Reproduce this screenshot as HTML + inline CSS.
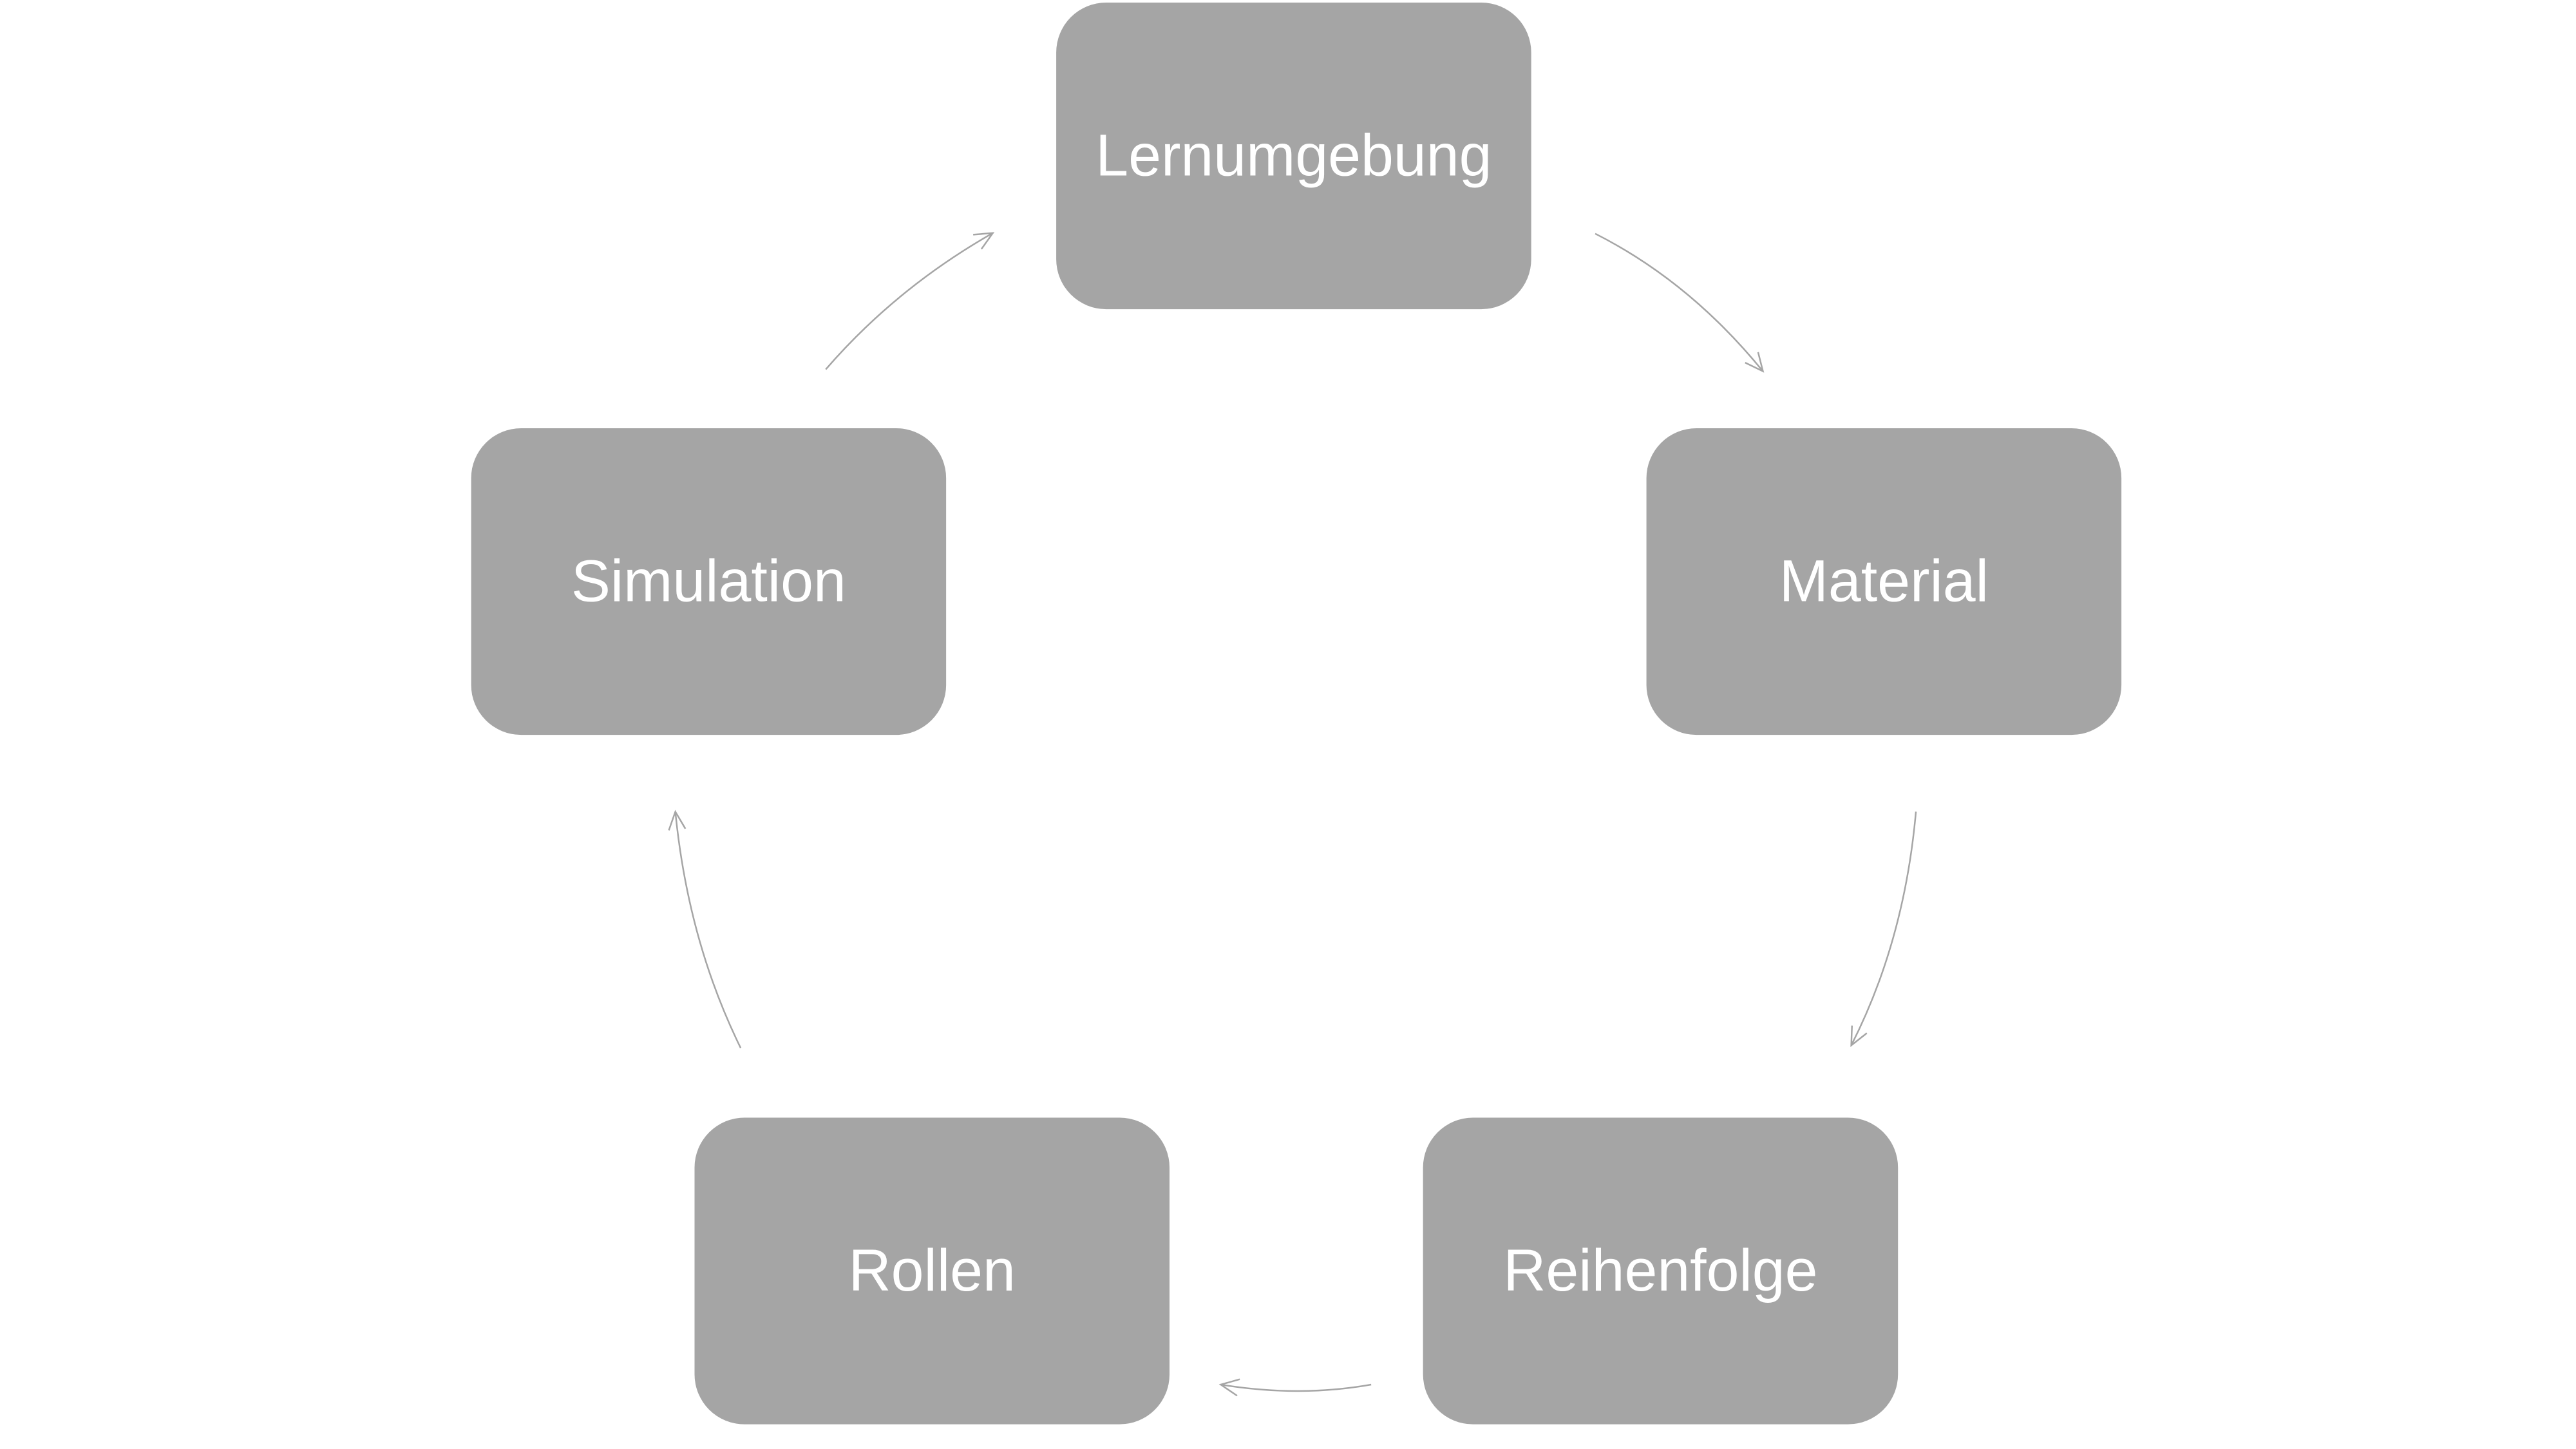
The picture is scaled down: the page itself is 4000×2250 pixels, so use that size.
<!DOCTYPE html>
<html><head><style>
html,body{margin:0;padding:0;background:#fff;}
body{width:4000px;height:2250px;position:relative;overflow:hidden;font-family:"Liberation Sans",sans-serif;}
#w{position:absolute;left:0;top:0;width:4000px;height:2250px;transform:scale(0.994);transform-origin:0 0;}
.b{position:absolute;background:#a5a5a5;border-radius:78px;color:#fff;font-size:92px;display:flex;align-items:center;justify-content:center;width:742px;height:479px;}
svg{position:absolute;left:0;top:0;}
</style></head><body><div id="w">
<svg width="4000" height="2250" viewBox="0 0 4000 2250">
<defs><marker id="a" markerWidth="40" markerHeight="40" refX="30" refY="15" orient="auto" markerUnits="userSpaceOnUse"><path d="M2,2 L30,15 L2,28" fill="none" stroke="#a5a5a5" stroke-width="2.5"/></marker></defs>
<g fill="none" stroke="#a5a5a5" stroke-width="2.5">
<path d="M2492,365 Q2640,440 2754,580" marker-end="url(#a)"/>
<path d="M2993,1268 Q2975,1470 2892,1633" marker-end="url(#a)"/>
<path d="M2142,2163 Q2030,2183 1907,2163" marker-end="url(#a)"/>
<path d="M1157,1637 Q1075,1470 1055,1268" marker-end="url(#a)"/>
<path d="M1290,577 Q1400,450 1551,364" marker-end="url(#a)"/>
</g></svg>
<div class="b" style="left:1650px;top:4px;">Lernumgebung</div>
<div class="b" style="left:736px;top:669px;">Simulation</div>
<div class="b" style="left:2572px;top:669px;">Material</div>
<div class="b" style="left:1085px;top:1746px;">Rollen</div>
<div class="b" style="left:2223px;top:1746px;">Reihenfolge</div>
</div></body></html>
